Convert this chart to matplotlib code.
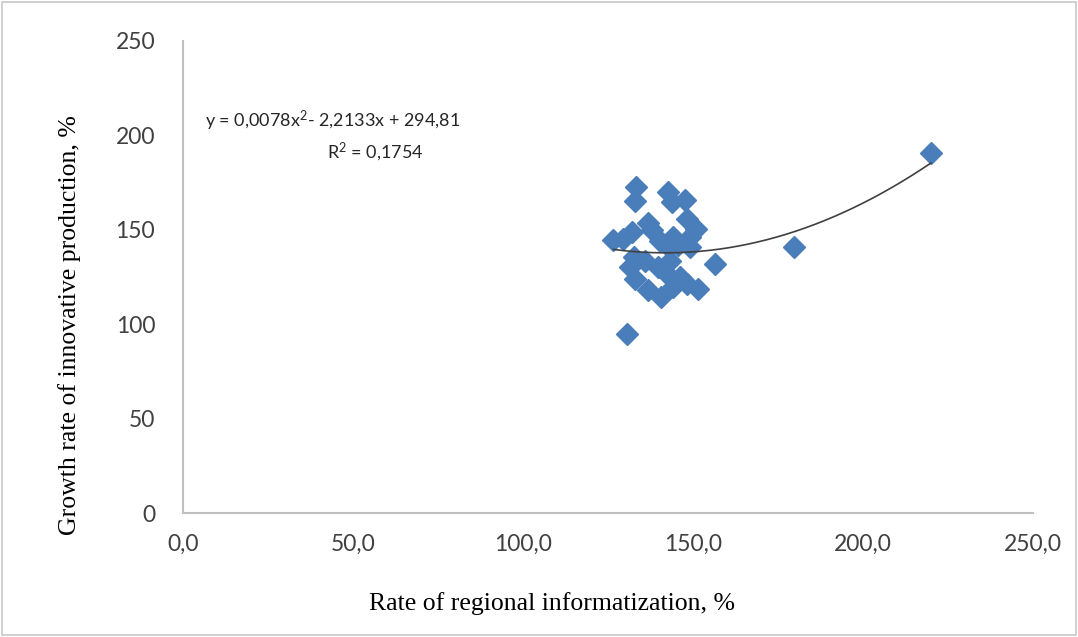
import matplotlib.pyplot as plt
import numpy as np
from matplotlib.patches import Rectangle

# rate of regional informatization, %
informatization = [220.0, 179.7, 156.6, 130.5,
                   133.2, 133.0, 142.7, 143.7, 147.6, 136.9, 132.0, 126.6,
                   129.5, 140.3, 148.1, 151.0, 149.1, 144.2, 142.3, 149.1,
                   132.5, 135.9, 131.5, 143.2, 133.0, 136.9, 140.7, 144.2,
                   146.2, 151.6, 148.1, 139.8, 142.3, 138.0, 145.5]
# growth rate of innovative production, %
innovation = [190.5, 141.0, 132.0, 95.0,
              172.8, 165.0, 169.8, 164.5, 165.8, 153.4, 148.7, 144.6,
              145.0, 144.3, 155.7, 150.5, 146.0, 146.0, 141.7, 140.8,
              135.6, 133.7, 130.2, 133.7, 124.0, 117.9, 114.3, 119.6,
              124.9, 118.8, 121.5, 130.2, 126.7, 150.0, 142.0]

coef = [0.0078, -2.2133, 294.81]

plt.rcParams['mathtext.fontset'] = 'custom'
plt.rcParams['mathtext.rm'] = 'Lato'
plt.rcParams['mathtext.default'] = 'regular'

W, H = 1078, 637
fig = plt.figure(figsize=(W / 100, H / 100), dpi=100)
ax = fig.add_axes([183 / W, 1 - 513 / H, (1033 - 183) / W, (513 - 41) / H])

ax.plot(informatization, innovation, linestyle='none', marker='D',
        markersize=11, color='#4a7ebb', markeredgecolor='#4a7ebb', zorder=2)

xs = np.linspace(min(informatization), max(informatization), 200)
ax.plot(xs, np.polyval(coef, xs), color='#404040', lw=1.2, zorder=3)

ax.set_xlim(0, 250)
ax.set_ylim(0, 250)
ax.set_xticks(np.arange(0, 251, 50))
ax.set_yticks(np.arange(0, 251, 50))
ax.set_xticklabels(['%d,0' % v for v in range(0, 251, 50)])
ax.tick_params(length=0, labelsize=16.5, labelcolor='#404040')
ax.tick_params(axis='x', pad=15)
ax.tick_params(axis='y', pad=20)
for lab in ax.get_xticklabels() + ax.get_yticklabels():
    lab.set_family('Lato')

for s in ['top', 'right']:
    ax.spines[s].set_visible(False)
for s in ['left', 'bottom']:
    ax.spines[s].set_color('#bfbfbf')
    ax.spines[s].set_linewidth(1.5)

fig.text(552 / W, 1 - 604 / H, 'Rate of regional informatization, %',
         family='Liberation Serif', fontsize=18.5, ha='center', va='center')
fig.text(70 / W, 1 - 325 / H, 'Growth rate of innovative production, %',
         family='Liberation Serif', fontsize=18.5, ha='center', va='center',
         rotation=90)

fig.text(333 / W, 1 - 121 / H, 'y = 0,0078x$^2$- 2,2133x + 294,81',
         family='Lato', fontsize=13, ha='center', va='center', color='#262626')
fig.text(375 / W, 1 - 152 / H, 'R$^2$ = 0,1754',
         family='Lato', fontsize=13, ha='center', va='center', color='#262626')

fig.patches.append(Rectangle((2 / W, 2 / H), 1 - 4 / W, 1 - 4 / H,
                             transform=fig.transFigure, fill=False,
                             edgecolor='#c8c8c8', lw=1.2))

fig.savefig('out.png', dpi=100)
